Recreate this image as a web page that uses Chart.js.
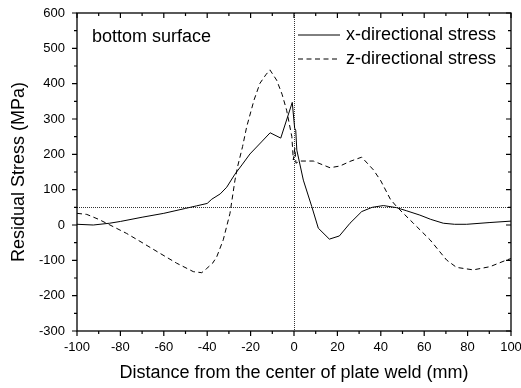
<!DOCTYPE html>
<html>
<head>
<meta charset="utf-8">
<script src="https://cdn.jsdelivr.net/npm/chart.js@4/dist/chart.umd.min.js"></script>
<style>
html,body{margin:0;padding:0;background:#fff;}
#wrap{width:521px;height:388px;}
</style>
</head>
<body>
<div id="wrap"><canvas id="c" width="521" height="388"></canvas></div>
<script>
// ---- data ----
const seriesNames = ['x-directional stress', 'z-directional stress'];
const annotationText = 'bottom surface';

const xDirX = [-100, -92.5, -85, -80, -70, -60, -50, -45, -40, -37.9, -34, -31, -27.2, -24, -20.3, -15, -11, -6.1, -0.8, 0.3, 0.8, 1.3, 4.3, 8.2, 11.2, 16.3, 20.9, 25.8, 31.2, 36, 41.2, 47.3, 52, 58, 63, 68.8, 74, 79.6, 90.3, 100];
const xDirY = [2, 0, 5, 10, 22, 33, 47, 54, 61, 73, 88, 107, 144, 170, 201, 235, 261, 246, 347, 274, 268, 212, 127, 52, -9, -40, -31, 5, 38, 50, 55, 49, 40, 28, 16, 5, 2, 2, 7, 11];

const zDirX = [-100, -95.5, -90, -84.8, -77.1, -69.4, -61.8, -54.1, -46.4, -42.5, -40.2, -37.5, -35.6, -32.6, -29.5, -27.2, -26, -23.7, -21.8, -18.4, -15.7, -13, -11.1, -8, -5.5, -3.4, -1, -0.3, 0.4, 0.9, 2.8, 8.9, 16.6, 21.2, 25.8, 31.2, 36.6, 40, 44.4, 47.3, 55, 62.7, 70.3, 74.9, 82.6, 90.3, 98, 100];
const zDirY = [33, 30, 16, 0, -24, -52, -80, -108, -132, -135, -123, -108, -90, -42, 33, 127, 165, 222, 278, 354, 401, 425, 439, 410, 370, 325, 250, 184, 218, 175, 181, 181, 162, 167, 180, 192, 156, 125, 73, 52, 5, -42, -99, -120, -127, -118, -99, -95];

const xTickValues = [-100, -80, -60, -40, -20, 0, 20, 40, 60, 80, 100];
const yTickValues = [-300, -200, -100, 0, 100, 200, 300, 400, 500, 600];
const refX = 0;
const refY = 50;

const FONT = "'Liberation Sans', Arial, Helvetica, sans-serif";

function pts(xs, ys){ return xs.map((v,i)=>({x:v, y:ys[i]})); }

const boxPlugin = {
  id: 'boxPlugin',
  beforeDatasetsDraw(chart){
    const {ctx, chartArea:a, scales} = chart;
    const xs = scales.x, ys = scales.y;
    ctx.save();
    ctx.strokeStyle = '#333';
    ctx.lineWidth = 1;
    ctx.setLineDash([1,1]);
    const px = Math.round(xs.getPixelForValue(refX)) + 0.5;
    const py = Math.round(ys.getPixelForValue(refY)) + 0.5;
    ctx.beginPath(); ctx.moveTo(px, a.top); ctx.lineTo(px, a.bottom); ctx.stroke();
    ctx.beginPath(); ctx.moveTo(a.left, py); ctx.lineTo(a.right, py); ctx.stroke();
    ctx.restore();
  },
  afterDraw(chart){
    const {ctx, chartArea:a, scales} = chart;
    const xs = scales.x, ys = scales.y;
    ctx.save();
    ctx.strokeStyle = '#000';
    ctx.lineWidth = 1.3;
    ctx.setLineDash([]);
    ctx.strokeRect(a.left, a.top, a.right - a.left, a.bottom - a.top);
    ctx.lineWidth = 1.2;
    const xmin = xTickValues[0], xmax = xTickValues[xTickValues.length-1];
    const xstep = (xTickValues[1]-xTickValues[0])/2;
    for (let v = xmin; v <= xmax + 1e-9; v += xstep){
      const major = xTickValues.some(t => Math.abs(t - v) < 1e-9);
      const L = major ? 5 : 3;
      const p = xs.getPixelForValue(v);
      ctx.beginPath();
      ctx.moveTo(p, a.bottom); ctx.lineTo(p, a.bottom + L);
      ctx.moveTo(p, a.top); ctx.lineTo(p, a.top + L);
      ctx.stroke();
    }
    const ymin = yTickValues[0], ymax = yTickValues[yTickValues.length-1];
    const ystep = (yTickValues[1]-yTickValues[0])/2;
    for (let v = ymin; v <= ymax + 1e-9; v += ystep){
      const major = yTickValues.some(t => Math.abs(t - v) < 1e-9);
      const L = major ? 5 : 3;
      const p = ys.getPixelForValue(v);
      ctx.beginPath();
      ctx.moveTo(a.left, p); ctx.lineTo(a.left - L, p);
      ctx.moveTo(a.right, p); ctx.lineTo(a.right - L, p);
      ctx.stroke();
    }
    ctx.fillStyle = '#000';
    ctx.font = '18px ' + FONT;
    ctx.textBaseline = 'middle';
    ctx.textAlign = 'left';
    ctx.fillText(annotationText, a.left + 15, a.top + 24);
    const ds = chart.data.datasets;
    const lx0 = 298, lx1 = 340, ly0 = 35, dy = 24;
    ds.forEach((d, i) => {
      const yy = ly0 + i*dy;
      ctx.beginPath();
      ctx.lineWidth = d.borderWidth;
      ctx.strokeStyle = d.borderColor;
      ctx.setLineDash(d.borderDash || []);
      ctx.moveTo(lx0, yy); ctx.lineTo(lx1, yy);
      ctx.stroke();
      ctx.setLineDash([]);
      ctx.fillText(d.label, lx1 + 6, yy);
    });
    ctx.restore();
  }
};

new Chart(document.getElementById('c'), {
  type: 'line',
  data: {
    datasets: [
      { label: seriesNames[0], data: pts(xDirX, xDirY), borderColor: '#000', borderWidth: 1, pointRadius: 0, tension: 0, fill: false },
      { label: seriesNames[1], data: pts(zDirX, zDirY), borderColor: '#000', borderWidth: 1, borderDash: [5, 3.5], pointRadius: 0, tension: 0, fill: false }
    ]
  },
  options: {
    responsive: false,
    animation: false,
    events: [],
    layout: { padding: { left: 0, right: 10, top: 13, bottom: 0 } },
    plugins: { legend: { display: false }, tooltip: { enabled: false } },
    scales: {
      x: {
        type: 'linear',
        min: xTickValues[0], max: xTickValues[xTickValues.length-1],
        afterBuildTicks: s => { s.ticks = xTickValues.map(v => ({value: v})); },
        afterFit: s => { s.height = 57; s.paddingLeft = 0; s.paddingRight = 0; },
        grid: { display: false, drawTicks: false },
        border: { display: false },
        ticks: { color: '#000', font: { family: FONT, size: 13 }, padding: 9, maxRotation: 0, autoSkip: false },
        title: { display: true, text: 'Distance from the center of plate weld (mm)', color: '#000', font: { family: FONT, size: 18 }, padding: { top: 0, bottom: 4 } }
      },
      y: {
        type: 'linear',
        min: yTickValues[0], max: yTickValues[yTickValues.length-1],
        afterBuildTicks: s => { s.ticks = yTickValues.map(v => ({value: v})); },
        afterFit: s => { s.width = 77; s.paddingTop = 0; s.paddingBottom = 0; },
        grid: { display: false, drawTicks: false },
        border: { display: false },
        ticks: { color: '#000', font: { family: FONT, size: 13 }, padding: 12, autoSkip: false },
        title: { display: true, text: 'Residual Stress (MPa)', color: '#000', font: { family: FONT, size: 18 }, padding: { top: 8, bottom: 0 } }
      }
    }
  },
  plugins: [boxPlugin]
});
</script>
</body>
</html>
